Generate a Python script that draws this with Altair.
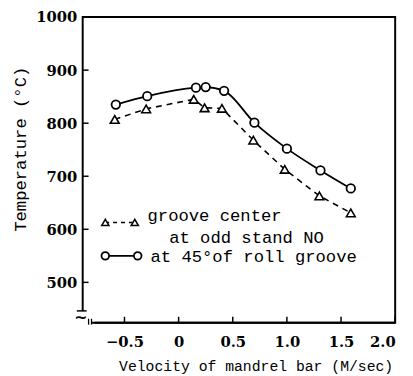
import altair as alt
import pandas as pd

vel_circle = [-0.58, -0.29, 0.16, 0.25, 0.42, 0.70, 1.00, 1.31, 1.59]
temp_circle = [835, 851, 867, 868, 861, 801, 752, 711, 677]
vel_tri = [-0.59, -0.30, 0.14, 0.24, 0.40, 0.69, 0.98, 1.30, 1.59]
temp_tri = [807, 827, 845, 829, 828, 768, 713, 663, 631]
x_ticks = [-0.5, 0, 0.5, 1.0, 1.5, 2.0]
y_ticks = [500, 600, 700, 800, 900, 1000]
legend_lines = ["groove center", "at odd stand NO", "at 45°of roll groove"]

X_DOM = [-0.886, 2.0]
Y_DOM = [424, 1000]
W, H = 318, 311
NFONT = "DejaVu Serif"
TFONT = "Liberation Mono"

circ = pd.DataFrame({"v": vel_circle, "t": temp_circle})
tri = pd.DataFrame({"v": vel_tri, "t": temp_tri})

xs = alt.Scale(domain=X_DOM, nice=False, zero=False)
ys = alt.Scale(domain=Y_DOM, nice=False, zero=False)

xax = alt.Axis(values=x_ticks, ticks=False, domain=False, grid=False,
               labelFont=NFONT, labelFontSize=15, labelFontWeight="bold",
               labelColor="black", labelPadding=12,
               labelExpr="datum.value == 0 ? '0' : format(datum.value, '.1f')",
               title="Velocity of mandrel bar (M/sec)", titleFont=TFONT,
               titleFontSize=15, titleFontWeight="normal", titleColor="black",
               titlePadding=10, titleX=176, titleAlign="center")
yax = alt.Axis(values=y_ticks, ticks=False, domain=False, grid=False,
               labelFont=NFONT, labelFontSize=15, labelFontWeight="bold",
               labelColor="black", labelPadding=6,
               labelExpr="format(datum.value, 'd')",
               title="Temperature (°C)", titleFont=TFONT, titleFontSize=17.5,
               titleFontWeight="normal", titleColor="black", titlePadding=6,
               titleY=134, titleAlign="center")


def X(field):
    return alt.X(field, scale=xs, axis=xax)


def Y(field):
    return alt.Y(field, scale=ys, axis=yax)


base_c = alt.Chart(circ).encode(x=X("v:Q"), y=Y("t:Q"))
line_c = base_c.mark_line(color="black", strokeWidth=1.8, interpolate="monotone")
pts_c = base_c.mark_point(shape="circle", size=75, filled=True, fill="white",
                          stroke="black", strokeWidth=1.8, opacity=1)

base_t = alt.Chart(tri).encode(x=X("v:Q"), y=Y("t:Q"))
line_t = base_t.mark_line(color="black", strokeWidth=1.6, strokeDash=[6, 5])
pts_t = base_t.mark_point(shape="triangle-up", size=80, filled=True, fill="white",
                          stroke="black", strokeWidth=1.6, opacity=1)

xt = alt.Chart(pd.DataFrame({"v": x_ticks})).mark_rule(color="black", strokeWidth=1.5).encode(
    x=X("v:Q"), y=alt.value(H), y2=alt.value(H - 6))
yt = alt.Chart(pd.DataFrame({"t": y_ticks})).mark_rule(color="black", strokeWidth=1.5).encode(
    y=Y("t:Q"), x=alt.value(0), x2=alt.value(6))

one = pd.DataFrame({"a": [0]})

# axis break at the lower-left corner
brk_white = alt.Chart(one).mark_rect(color="white").encode(
    x=alt.value(-3), x2=alt.value(12), y=alt.value(H - 12), y2=alt.value(H + 3))
brk_bar = alt.Chart(one).mark_rule(color="black", strokeWidth=1.5).encode(
    x=alt.value(-6), x2=alt.value(4), y=alt.value(H - 12))
brk_tilde = alt.Chart(one).mark_text(text="~", font="DejaVu Sans", fontSize=16,
                                     fontWeight="bold", color="black").encode(
    x=alt.value(-2), y=alt.value(H - 5))
brk_v = alt.Chart(pd.DataFrame({"px": [6, 9]})).mark_rule(color="black", strokeWidth=1.3).encode(
    x=alt.X("px:Q", scale=None), y=alt.value(H - 4), y2=alt.value(H + 2))
brk_axis = alt.Chart(one).mark_rule(color="black", strokeWidth=2).encode(
    x=alt.value(9), x2=alt.value(W), y=alt.value(H))

# legend
lg_line1 = alt.Chart(one).mark_rule(color="black", strokeWidth=1.5, strokeDash=[4, 4]).encode(
    x=alt.value(23), x2=alt.value(53), y=alt.value(209))
lg_tri = alt.Chart(pd.DataFrame({"px": [23, 53]})).mark_point(
    shape="triangle-up", size=55, filled=True, fill="white", stroke="black", strokeWidth=1.5, opacity=1
).encode(x=alt.X("px:Q", scale=None), y=alt.value(209))
lg_line2 = alt.Chart(one).mark_rule(color="black", strokeWidth=1.8).encode(
    x=alt.value(23), x2=alt.value(56), y=alt.value(243))
lg_circ = alt.Chart(pd.DataFrame({"px": [23, 56]})).mark_point(
    shape="circle", size=60, filled=True, fill="white", stroke="black", strokeWidth=1.8, opacity=1
).encode(x=alt.X("px:Q", scale=None), y=alt.value(243))

txt = pd.DataFrame({"s": legend_lines, "px": [66, 88, 69], "py": [203, 225, 244]})
lg_txt = alt.Chart(txt).mark_text(align="left", baseline="middle", font=TFONT,
                                  fontSize=17.5, color="black").encode(
    x=alt.X("px:Q", scale=None), y=alt.Y("py:Q", scale=None), text="s:N")

chart = alt.layer(line_t, line_c, pts_t, pts_c, xt, yt,
                  brk_white, brk_bar, brk_tilde, brk_v, brk_axis,
                  lg_line1, lg_tri, lg_line2, lg_circ, lg_txt).properties(
    width=W, height=H,
    autosize=alt.AutoSizeParams(type="none"),
    padding={"left": 76, "top": 6, "right": 10, "bottom": 50},
).configure_view(stroke="black", strokeWidth=2)

chart.save("out.html", embed_options={"renderer": "svg", "actions": False})
